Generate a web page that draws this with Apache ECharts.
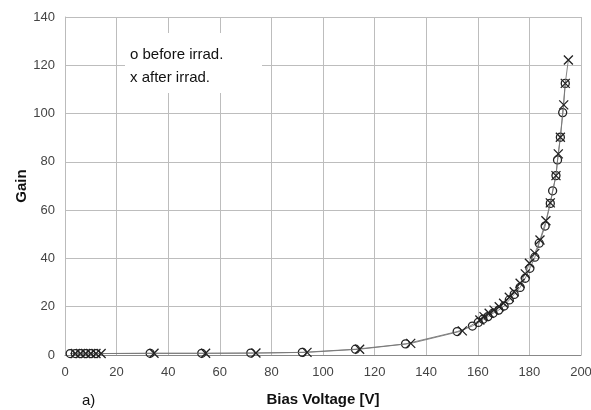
<!DOCTYPE html>
<html>
<head>
<meta charset="utf-8">
<script src="https://cdn.jsdelivr.net/npm/echarts@6/dist/echarts.min.js"></script>
<style>
  html, body { margin: 0; padding: 0; background: #fff; }
  #chart { width: 591px; height: 410px; }
</style>
</head>
<body>
<div id="chart"></div>
<script>
// Gain versus bias voltage, before and after irradiation
const beforeVoltage = [2, 4, 6, 8, 10, 12, 33, 53, 72, 92, 112.6, 132, 152, 157.9, 160.2, 162, 163.9, 165.9, 168.1, 170.2, 172.2, 174.1, 176.4, 178.4, 180.2, 182.1, 183.8, 186.1, 188.1, 189, 190.3, 190.9, 192, 192.9, 193.9];
const beforeGain    = [0.6, 0.6, 0.6, 0.6, 0.6, 0.6, 0.7, 0.7, 0.8, 1.1, 2.4, 4.6, 9.7, 12, 13.5, 14.8, 15.9, 17.3, 18.6, 20.3, 22.8, 25.1, 28, 31.8, 35.9, 40.5, 46.3, 53.4, 62.8, 68, 74.3, 80.8, 90.2, 100.4, 112.5];

const afterVoltage = [4, 6, 8, 10, 12, 14, 34.5, 54.5, 74, 93.8, 114.2, 134, 154, 160.8, 162.4, 164.4, 166.3, 168.3, 170, 172.2, 174.1, 176.4, 178.4, 180, 182.1, 184.1, 186.4, 188.1, 190.3, 191.2, 192, 193.3, 193.9, 195.1];
const afterGain    = [0.6, 0.6, 0.6, 0.6, 0.6, 0.6, 0.7, 0.7, 0.8, 1.1, 2.4, 4.8, 10, 14.5, 15.9, 17.3, 18.6, 20, 21.4, 23.9, 26.2, 29.7, 33.6, 38, 42.1, 47.6, 55.6, 63, 74.3, 83.3, 90.2, 103.6, 112.5, 122.2];

const xTicks = [0, 20, 40, 60, 80, 100, 120, 140, 160, 180, 200];
const yTicks = [0, 20, 40, 60, 80, 100, 120, 140];

const pairs = (xs, ys) => xs.map((x, i) => [x, ys[i]]);

const FONT = '"Liberation Sans", Arial, sans-serif';
const chart = echarts.init(document.getElementById('chart'), null, { renderer: 'canvas' });

chart.setOption({
  animation: false,
  backgroundColor: '#ffffff',
  grid: { left: 65, right: 10, top: 17, bottom: 55, containLabel: false, outerBoundsMode: 'none' },
  xAxis: {
    type: 'value',
    min: xTicks[0], max: xTicks[xTicks.length - 1], interval: 20,
    name: 'Bias Voltage [V]',
    nameLocation: 'middle', nameGap: 37, nameMoveOverlap: false,
    nameTextStyle: { fontFamily: FONT, fontSize: 15, fontWeight: 'bold', color: '#111' },
    axisLine: { show: true, lineStyle: { color: '#888', width: 1 } },
    axisTick: { show: false },
    axisLabel: { fontFamily: FONT, fontSize: 13, color: '#444', margin: 11 },
    splitLine: { show: true, lineStyle: { color: '#bdbdbd', width: 1 } }
  },
  yAxis: {
    type: 'value',
    min: yTicks[0], max: yTicks[yTicks.length - 1], interval: 20,
    name: 'Gain',
    nameLocation: 'middle', nameGap: 36, nameMoveOverlap: false,
    nameTextStyle: { fontFamily: FONT, fontSize: 15, fontWeight: 'bold', color: '#111' },
    axisLine: { show: true, lineStyle: { color: '#bbb', width: 1 } },
    axisTick: { show: false },
    axisLabel: { fontFamily: FONT, fontSize: 13, color: '#444', margin: 10 },
    splitLine: { show: true, lineStyle: { color: '#bdbdbd', width: 1 } }
  },
  series: [
    {
      name: 'before irrad.',
      type: 'line',
      data: pairs(beforeVoltage, beforeGain),
      symbol: 'circle',
      symbolSize: 8,
      lineStyle: { color: '#777', width: 0.9 },
      itemStyle: { color: 'rgba(255,255,255,0)', borderColor: '#222', borderWidth: 1.3 },
      z: 3
    },
    {
      name: 'after irrad.',
      type: 'line',
      data: pairs(afterVoltage, afterGain),
      symbol: 'path://M0,0L10,10M10,0L0,10',
      symbolSize: 9,
      lineStyle: { color: '#777', width: 0.9 },
      itemStyle: { color: 'none', borderColor: '#222', borderWidth: 1.3 },
      z: 4
    }
  ],
  graphic: [
    { type: 'rect', shape: { x: 125, y: 33, width: 137, height: 60 }, style: { fill: '#fff' }, z: 10 },
    { type: 'text', left: 130, top: 47, style: { text: 'o before irrad.', font: '15px ' + FONT, fill: '#111' }, z: 11 },
    { type: 'text', left: 130, top: 70, style: { text: 'x after irrad.', font: '15px ' + FONT, fill: '#111' }, z: 11 },
    { type: 'text', left: 82, top: 393, style: { text: 'a)', font: '15px ' + FONT, fill: '#111' }, z: 11 }
  ]
});
</script>
</body>
</html>
